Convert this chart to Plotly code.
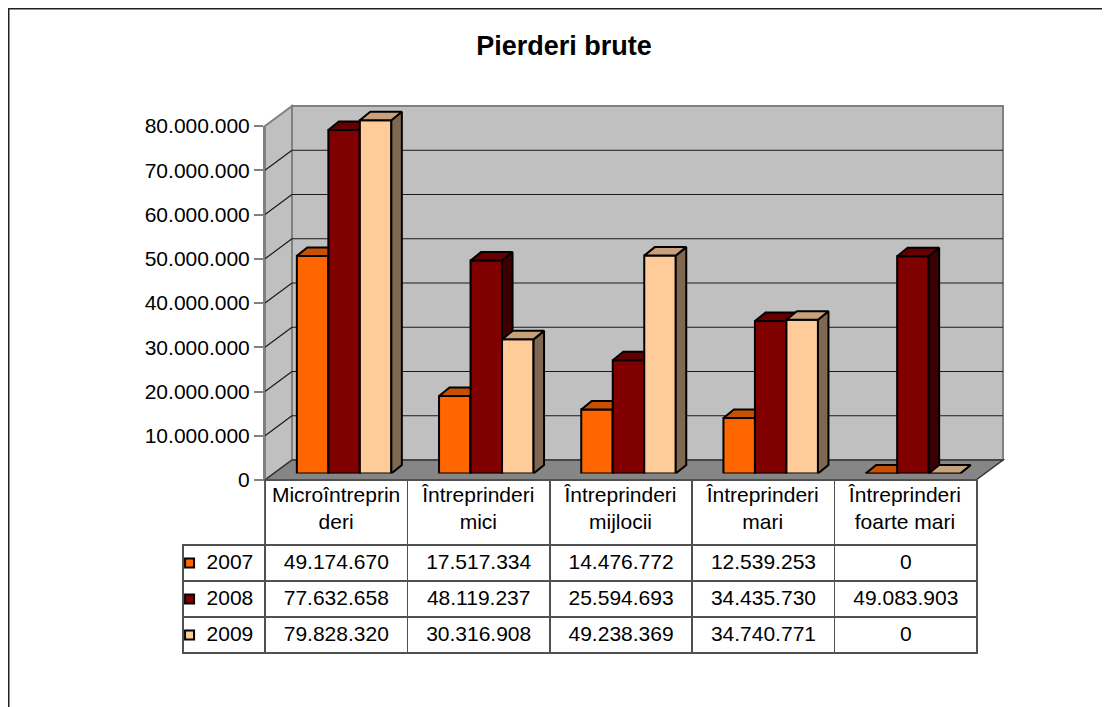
import plotly.graph_objects as go

# ---------------- data ----------------
categories = ["Microîntreprinderi", "Întreprinderi mici", "Întreprinderi mijlocii",
              "Întreprinderi mari", "Întreprinderi foarte mari"]
category_labels = ["Microîntreprin<br>deri", "Întreprinderi<br>mici", "Întreprinderi<br>mijlocii",
                   "Întreprinderi<br>mari", "Întreprinderi<br>foarte mari"]
years = ["2007", "2008", "2009"]
v2007 = [49174670, 17517334, 14476772, 12539253, 0]
v2008 = [77632658, 48119237, 25594693, 34435730, 49083903]
v2009 = [79828320, 30316908, 49238369, 34740771, 0]
y_ticks = [0, 10000000, 20000000, 30000000, 40000000, 50000000, 60000000, 70000000, 80000000]
title_text = "Pierderi brute"

series = [v2007, v2008, v2009]
front_colors = ["#FF6600", "#800000", "#FFCC99"]
top_colors = ["#C85000", "#660000", "#C8A07A"]
side_colors = ["#993D00", "#3D0000", "#806850"]

# ---------------- geometry helpers (page pixels -> paper) ----------------
PAGE_OFF = 8                 # default body margin of the html page
FW, FH = 1102, 699
def px(x): return (x - PAGE_OFF) / FW
def py(y): return 1 - (y - PAGE_OFF) / FH

FONT = "Liberation Sans, Arial, sans-serif"
YMAX = 80000000

FRONT_L, FRONT_R, FRONT_B, FRONT_T = 265, 976, 480, 126
DX, DY = 27, 20
BACK_L, BACK_R, BACK_B, BACK_T = FRONT_L + DX, FRONT_R + DX, FRONT_B - DY, FRONT_T - DY
SCALE = (FRONT_B - FRONT_T) / YMAX           # px per unit value

# bar plane (slightly behind the front edge)
BSHIFT_X, BSHIFT_Y = 8, 6.5
BAR_L, BAR_R = FRONT_L + BSHIFT_X, FRONT_R + BSHIFT_X
BAR_B = FRONT_B - BSHIFT_Y
BAR_RANGE_TOP = 90000000
BAR_T = BAR_B - BAR_RANGE_TOP * SCALE

n_cat = len(categories)
unit_px = (BAR_R - BAR_L) / n_cat
bar_w = 31.5 / unit_px
group_off = -1.5 * bar_w
ddx = 10.5 / unit_px                 # bar depth in x data units
ddy = 8.5 / SCALE                    # bar depth in y data units

HEADER_H, ROW_H = 65, 36
TABLE_L = 183

fig = go.Figure()

axis_ids = [("x", "y"), ("x2", "y2"), ("x3", "y3")]
for k, vals in enumerate(series):
    xa, ya = axis_ids[k]
    off = group_off + k * bar_w
    xs = list(range(n_cat))
    fig.add_trace(go.Bar(
        x=xs, y=vals, width=bar_w, offset=off, name=years[k],
        marker=dict(color=front_colors[k], line=dict(color="black", width=2)),
        xaxis=xa, yaxis=ya, showlegend=False, hoverinfo="skip"))
    sx, sy, tx, ty = [], [], [], []
    for i, v in enumerate(vals):
        x0 = i + off
        x1 = x0 + bar_w
        sx += [x1, x1, x1 + ddx, x1 + ddx, x1, None]
        sy += [0, v, v + ddy, ddy, 0, None]
        tx += [x0, x1, x1 + ddx, x0 + ddx, x0, None]
        ty += [v, v, v + ddy, v + ddy, v, None]
    fig.add_trace(go.Scatter(
        x=sx, y=sy, mode="lines", fill="toself", fillcolor=side_colors[k],
        line=dict(color="black", width=2), xaxis=xa, yaxis=ya,
        showlegend=False, hoverinfo="skip"))
    fig.add_trace(go.Scatter(
        x=tx, y=ty, mode="lines", fill="toself", fillcolor=top_colors[k],
        line=dict(color="black", width=2), xaxis=xa, yaxis=ya,
        showlegend=False, hoverinfo="skip"))

# invisible carrier so the front value axis / category axis are drawn
fig.add_trace(go.Scatter(
    x=list(range(n_cat)), y=[0] * n_cat, mode="markers", marker=dict(opacity=0),
    xaxis="x4", yaxis="y4", showlegend=False, hoverinfo="skip", cliponaxis=True))

# legend keys in the table's first column
fig.add_trace(go.Scatter(
    x=[0.08] * len(years), y=list(range(len(years))), mode="markers",
    marker=dict(symbol="square", size=9, color=front_colors, line=dict(color="black", width=2)),
    xaxis="x5", yaxis="y5", showlegend=False, hoverinfo="skip"))

# data table
def fmt(v):
    return f"{v:,}".replace(",", ".")

col_values = [["\u00a0\u00a0" + y for y in years]]
for i in range(n_cat):
    col_values.append([fmt(s[i]) for s in series])

first_w = FRONT_L - TABLE_L
fig.add_trace(go.Table(
    domain=dict(x=[px(TABLE_L), px(FRONT_R + 1)], y=[py(700), py(FRONT_B)]),
    columnwidth=[first_w] + [(FRONT_R - FRONT_L) / n_cat] * n_cat,
    header=dict(
        values=[""] * (n_cat + 1),
        height=HEADER_H,
        fill=dict(color="rgba(0,0,0,0)"),
        line=dict(color="#505050", width=[0] + [1.5] * n_cat),
    ),
    cells=dict(
        values=col_values,
        height=ROW_H,
        align=["center"] + ["center"] * n_cat,
        font=dict(family=FONT, size=21, color="black"),
        fill=dict(color=["rgba(0,0,0,0)"] + ["white"] * n_cat),
        line=dict(color="#505050", width=1.5),
    ),
))

# ---------------- decorative walls / floor / gridlines ----------------
shapes = []
shapes.append(dict(type="rect", xref="paper", yref="paper",
                   x0=px(8.75), x1=px(1140), y0=py(740), y1=py(8.75),
                   line=dict(color="#222222", width=1.5), fillcolor="white", layer="below"))
shapes.append(dict(type="rect", xref="paper", yref="paper",
                   x0=px(BACK_L), x1=px(BACK_R), y0=py(BACK_B), y1=py(BACK_T),
                   line=dict(color="#808080", width=2), fillcolor="#C0C0C0", layer="below"))
shapes.append(dict(type="path", xref="paper", yref="paper",
                   path=f"M {px(FRONT_L)} {py(FRONT_T)} L {px(BACK_L)} {py(BACK_T)} "
                        f"L {px(BACK_L)} {py(BACK_B)} L {px(FRONT_L)} {py(FRONT_B)} Z",
                   line=dict(color="#808080", width=2), fillcolor="#C0C0C0", layer="below"))
for t in y_ticks[1:-1]:
    yb = BACK_B - t * SCALE
    yf = FRONT_B - t * SCALE
    shapes.append(dict(type="line", xref="paper", yref="paper",
                       x0=px(BACK_L), x1=px(BACK_R), y0=py(yb), y1=py(yb),
                       line=dict(color="#1a1a1a", width=1.2), layer="below"))
    shapes.append(dict(type="line", xref="paper", yref="paper",
                       x0=px(FRONT_L), x1=px(BACK_L), y0=py(yf), y1=py(yb),
                       line=dict(color="#1a1a1a", width=1.2), layer="below"))
shapes.append(dict(type="path", xref="paper", yref="paper",
                   path=f"M {px(FRONT_L)} {py(FRONT_B)} L {px(FRONT_R)} {py(FRONT_B)} "
                        f"L {px(BACK_R)} {py(BACK_B)} L {px(BACK_L)} {py(BACK_B)} Z",
                   line=dict(color="#333333", width=1.5), fillcolor="#868686", layer="below"))

hidden = dict(visible=False, fixedrange=True, automargin=False)
bar_x = dict(hidden, domain=[px(BAR_L), px(BAR_R)], range=[-0.5, n_cat - 0.5])
bar_y = dict(hidden, domain=[py(BAR_B), py(BAR_T)], range=[0, BAR_RANGE_TOP])

fig.update_layout(
    width=FW, height=FH, autosize=False,
    margin=dict(l=0, r=0, t=0, b=0, pad=0, autoexpand=False),
    paper_bgcolor="white",
    plot_bgcolor="rgba(0,0,0,0)",
    separators=",.",
    font=dict(family=FONT, size=21, color="black"),
    barmode="overlay",
    showlegend=False,
    title=dict(text=f"<b>{title_text}</b>", x=px(564), y=py(46), xanchor="center", yanchor="middle",
               xref="paper", yref="paper", automargin=False,
               font=dict(family=FONT, size=27, color="black")),
    xaxis=dict(bar_x, anchor="y"),
    yaxis=dict(bar_y, anchor="x"),
    xaxis2=dict(bar_x, overlaying="x", anchor="y2"),
    yaxis2=dict(bar_y, overlaying="y", anchor="x2"),
    xaxis3=dict(bar_x, overlaying="x", anchor="y3"),
    yaxis3=dict(bar_y, overlaying="y", anchor="x3"),
    xaxis4=dict(domain=[px(FRONT_L), px(FRONT_R)], range=[-0.5, n_cat - 0.5], anchor="y4",
                tickvals=list(range(n_cat)), ticktext=category_labels, ticks="",
                showgrid=False, zeroline=False, showline=False, fixedrange=True, automargin=False,
                tickfont=dict(family=FONT, size=21, color="black")),
    yaxis4=dict(domain=[py(FRONT_B), py(FRONT_T)], range=[0, YMAX], anchor="x4",
                tickvals=y_ticks, tickformat=",d", ticks="outside", ticklen=9,
                tickcolor="#808080", tickwidth=1.5, showgrid=False, zeroline=False,
                showline=True, linecolor="#808080", linewidth=2, automargin=False,
                tickfont=dict(family=FONT, size=21, color="black"), fixedrange=True),
    xaxis5=dict(visible=False, fixedrange=True, automargin=False, domain=[px(TABLE_L), px(FRONT_L)],
                range=[0, 1], anchor="y5"),
    yaxis5=dict(visible=False, fixedrange=True, automargin=False,
                domain=[py(FRONT_B + HEADER_H + ROW_H * 3), py(FRONT_B + HEADER_H)],
                range=[len(years) - 0.5, -0.5], anchor="x5"),
    shapes=shapes,
)

fig.write_html("out.html")
